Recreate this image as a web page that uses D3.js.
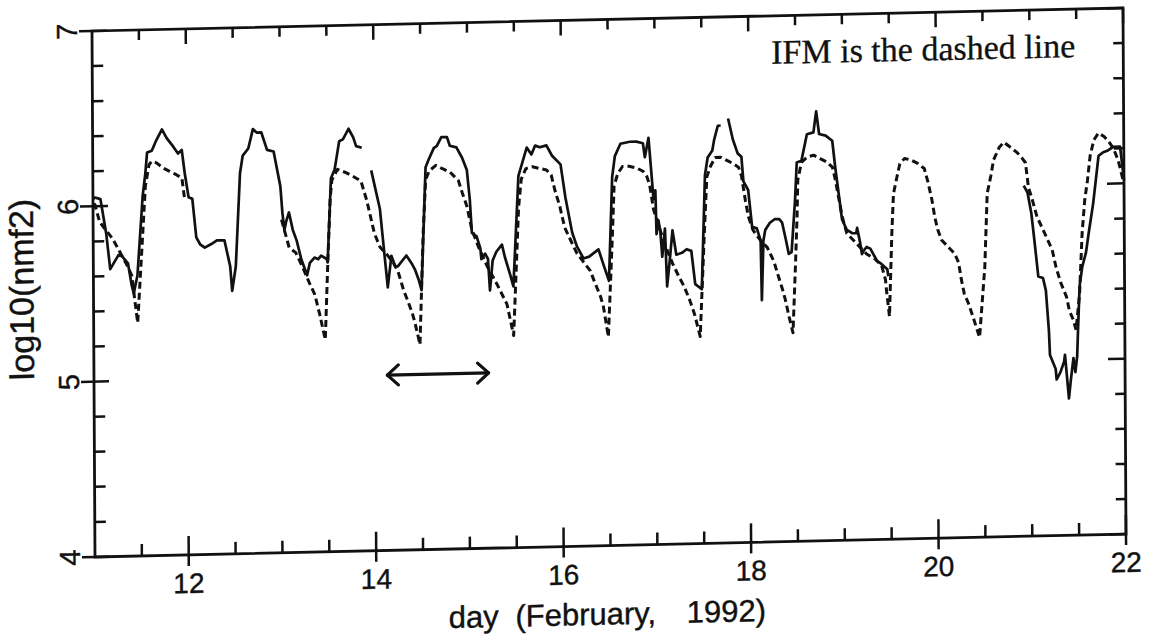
<!DOCTYPE html>
<html>
<head>
<meta charset="utf-8">
<script src="https://cdn.jsdelivr.net/npm/d3@7"></script>
<style>
  html, body { margin: 0; padding: 0; background: #fff; }
  svg { display: block; }
</style>
</head>
<body>
<svg id="chart" width="1155" height="641"></svg>
<script>
// Observed log10(NmF2): day of February 1992 and value; null marks a data gap.
const measuredDay = [
  11.00, 11.02, 11.08, 11.14, 11.18, 11.27, 11.31, 11.37, 11.41, 11.43, 11.47, 11.53, 11.56,
  11.58, 11.63, 11.68, 11.74, 11.79, 11.86, 11.91, 11.95, 11.98, 12.02, 12.06, 12.10, 12.14,
  12.19, 12.26, 12.32, 12.40, 12.46, 12.48, 12.52, 12.57, 12.60, 12.66, 12.71, 12.75, 12.80,
  12.86, 12.93, 13.00, 13.02, 13.04, 13.06, 13.09, 13.13, 13.17, 13.22, 13.28, 13.31, 13.36,
  13.40, 13.43, 13.49, 13.50, 13.54, 13.58, 13.63, 13.67, 13.73, 13.78, 13.81, 13.87, 13.92,
  13.97, 14.06, 14.09, 14.14, 14.18, 14.22, 14.25, 14.34, 14.40, 14.43, 14.47, 14.50, 14.55,
  14.58, 14.64, 14.67, 14.72, 14.78, 14.81, 14.88, 14.94, 14.99, 15.02, 15.04, 15.09, 15.13,
  15.14, 15.18, 15.21, 15.23, 15.26, 15.30, 15.36, 15.39, 15.45, 15.48, 15.54, 15.58, 15.63,
  15.68, 15.72, 15.77, 15.84, 15.90, 15.99, 16.04, 16.11, 16.16, 16.23, 16.29, 16.39, 16.45,
  16.50, 16.54, 16.57, 16.63, 16.73, 16.80, 16.87, 16.89, 16.93, 16.95, 16.98, 17.00, 17.01,
  17.03, 17.05, 17.07, 17.10, 17.12, 17.15, 17.18, 17.22, 17.28, 17.33, 17.38, 17.42, 17.49,
  17.53, 17.56, 17.61, 17.63, 17.67, 17.70, 17.74, 17.78, 17.83, 17.88, 17.92, 17.94, 17.99,
  18.03, 18.08, 18.12, 18.13, 18.15, 18.17, 18.22, 18.27, 18.32, 18.35, 18.39, 18.42, 18.45,
  18.49, 18.51, 18.56, 18.62, 18.69, 18.72, 18.75, 18.82, 18.89, 18.92, 18.99, 19.04, 19.10,
  19.14, 19.15, 19.18, 19.20, 19.22, 19.25, 19.29, 19.32, 19.36, 19.41, 19.47, 19.48, 20.20,
  20.93, 20.97, 21.01, 21.04, 21.08, 21.13, 21.16, 21.19, 21.20, 21.26, 21.27, 21.31, 21.35,
  21.36, 21.40, 21.42, 21.45, 21.47, 21.49, 21.50, 21.52, 21.55, 21.59, 21.62, 21.67, 21.73,
  21.78, 21.83, 21.89, 21.96, 22.00
];
const measuredLog = [
  6.04, 6.05, 6.04, 5.84, 5.64, 5.72, 5.71, 5.67, 5.54, 5.50, 5.60, 6.05, 6.18,
  6.30, 6.31, 6.37, 6.43, 6.38, 6.33, 6.29, 6.31, 6.18, 6.04, 6.03, 5.81, 5.77,
  5.75, 5.77, 5.79, 5.79, 5.64, 5.50, 5.64, 6.17, 6.27, 6.31, 6.42, 6.40, 6.40,
  6.30, 6.29, 6.09, 5.94, 5.84, 5.89, 5.94, 5.84, 5.78, 5.67, 5.58, 5.65, 5.68,
  5.67, 5.69, 5.67, 5.65, 6.13, 6.18, 6.34, 6.35, 6.41, 6.36, 6.31, 6.30, null,
  6.17, 5.95, 5.78, 5.50, 5.68, 5.62, 5.62, 5.68, 5.63, 5.60, 5.54, 5.48, 6.18,
  6.22, 6.29, 6.30, 6.35, 6.35, 6.30, 6.29, 6.23, 6.16, 5.99, 5.80, 5.78, 5.71,
  5.65, 5.68, 5.65, 5.47, 5.64, 5.69, 5.73, 5.66, 5.55, 5.49, 6.12, 6.19, 6.28,
  6.24, 6.29, 6.28, 6.29, 6.23, 6.18, 5.99, 5.79, 5.71, 5.64, 5.65, 5.69, 5.59,
  5.51, 6.10, 6.22, 6.29, 6.30, 6.30, 6.29, 6.21, 6.32, 6.18, 5.97, 6.02, 5.77,
  5.85, 5.79, 5.64, 5.80, 5.47, 5.62, 5.79, 5.65, 5.66, 5.68, 5.67, 5.48, 5.45,
  6.10, 6.20, 6.24, 6.30, 6.38, 6.38, null, 6.42, 6.30, 6.22, 6.20, 6.06, 6.01,
  5.80, 5.79, 5.72, 5.38, 5.72, 5.78, 5.82, 5.84, 5.84, 5.82, 5.72, 5.64, 5.65,
  5.95, 6.16, 6.17, 6.32, 6.33, 6.45, 6.32, 6.31, 6.28, 6.13, 5.83, 5.77, 5.75,
  5.75, 5.78, 5.70, 5.63, 5.65, 5.67, 5.66, 5.63, 5.59, 5.57, 5.54, 5.50, null,
  6.00, 5.96, 5.84, 5.69, 5.48, 5.47, 5.40, 5.17, 5.03, 4.95, 4.89, 4.93, 4.99,
  5.03, 4.78, 4.88, 5.01, 4.93, 5.02, 5.16, 5.42, 5.53, 5.61, 5.72, 5.89, 6.16,
  6.18, 6.19, 6.21, 6.21, 6.02
];

// IFM model log10(NmF2) for the same days; null marks where no model curve is drawn.
const ifmDay = [
  11.00, 11.02, 11.07, 11.14, 11.21, 11.28, 11.35, 11.41, 11.44, 11.47, 11.52, 11.56, 11.60,
  11.63, 11.68, 11.75, 11.82, 11.89, 11.95, 11.98, 12.50,
  13.01, 13.09, 13.16, 13.23, 13.30, 13.36, 13.41, 13.47, 13.50, 13.53, 13.55, 13.61, 13.70,
  13.77, 13.86, 13.92, 13.95, 14.00, 14.06, 14.13, 14.20, 14.25, 14.31, 14.36, 14.40, 14.43,
  14.48, 14.52, 14.55, 14.59, 14.66, 14.73, 14.81, 14.90, 14.94, 14.99, 15.04, 15.11, 15.20,
  15.30, 15.41, 15.48, 15.54, 15.57, 15.62, 15.69, 15.76, 15.84, 15.89, 15.93, 15.98, 16.03,
  16.09, 16.16, 16.23, 16.30, 16.35, 16.41, 16.44, 16.49, 16.54, 16.56, 16.60, 16.65, 16.72,
  16.80, 16.87, 16.91, 16.94, 16.98, 17.05, 17.12, 17.18, 17.25, 17.30, 17.36, 17.41, 17.47,
  17.52, 17.55, 17.59, 17.64, 17.70, 17.77, 17.84, 17.89, 17.92, 17.96, 17.99, 18.04, 18.12,
  18.19, 18.26, 18.31, 18.35, 18.38, 18.42, 18.46, 18.49, 18.51, 18.52, 18.56, 18.62, 18.69,
  18.76, 18.83, 18.89, 18.92, 18.96, 18.99, 19.04, 19.11, 19.18, 19.25, 19.34, 19.41, 19.45,
  19.46, 19.49, 19.52, 19.54, 19.58, 19.61, 19.66, 19.73, 19.80, 19.87, 19.91, 19.95, 19.98,
  20.01, 20.05, 20.12, 20.19, 20.23, 20.26, 20.29, 20.33, 20.38, 20.45, 20.51, 20.54, 20.58,
  20.61, 20.67, 20.72, 20.79, 20.86, 20.91, 20.95, 20.98, 21.02, 21.07, 21.13, 21.18, 21.23,
  21.27, 21.32, 21.38, 21.41, 21.45, 21.48, 21.52, 21.55, 21.58, 21.61, 21.64, 21.68, 21.73,
  21.79, 21.84, 21.89, 21.94, 21.99
];
const ifmLog = [
  6.01, 6.01, 5.91, 5.86, 5.81, 5.74, 5.67, 5.60, 5.46, 5.33, 5.76, 6.11, 6.23,
  6.25, 6.24, 6.21, 6.19, 6.17, 6.15, 6.02, null,
  5.90, 5.74, 5.71, 5.63, 5.54, 5.47, 5.36, 5.21, 5.63, 6.01, 6.12, 6.18, 6.16,
  6.14, 6.11, 6.00, 5.93, 5.81, 5.73, 5.69, 5.64, 5.59, 5.48, 5.41, 5.35, 5.29,
  5.17, 5.80, 6.11, 6.16, 6.19, 6.17, 6.15, 6.10, 6.03, 5.95, 5.82, 5.72, 5.61,
  5.51, 5.39, 5.21, 5.94, 6.10, 6.16, 6.17, 6.16, 6.15, 6.12, 6.03, 5.94, 5.82,
  5.75, 5.67, 5.62, 5.57, 5.50, 5.42, 5.36, 5.19, 5.78, 6.05, 6.12, 6.16, 6.16,
  6.15, 6.13, 6.10, 6.05, 5.91, 5.79, 5.68, 5.60, 5.52, 5.47, 5.39, 5.31, 5.18,
  5.77, 6.09, 6.15, 6.20, 6.20, 6.18, 6.16, 6.14, 6.09, 5.95, 5.86, 5.78, 5.72,
  5.68, 5.60, 5.51, 5.44, 5.38, 5.28, 5.19, 5.57, 5.85, 6.06, 6.16, 6.19, 6.20,
  6.18, 6.16, 6.13, 6.06, 5.94, 5.85, 5.75, 5.71, 5.67, 5.63, 5.60, 5.56, 5.48,
  5.42, 5.27, 5.74, 5.97, 6.07, 6.14, 6.17, 6.16, 6.14, 6.11, 6.03, 5.93, 5.83,
  5.76, 5.70, 5.66, 5.62, 5.57, 5.47, 5.39, 5.34, 5.26, 5.14, 5.54, 5.96, 6.06,
  6.15, 6.22, 6.25, 6.22, 6.19, 6.16, 6.13, 5.99, 5.92, 5.82, 5.75, 5.69, 5.63,
  5.53, 5.44, 5.36, 5.28, 5.23, 5.17, 5.38, 5.72, 5.91, 6.02, 6.16, 6.25, 6.29,
  6.27, 6.24, 6.20, 6.13, 6.02
];

// Axis ticks and labels
const xLabelTicks = [12, 14, 16, 18, 20, 22];
const xMinorTicks = [11.5, 12.5, 13, 13.5, 14.5, 15, 15.5, 16.5, 17, 17.5, 18.5, 19, 19.5, 20.5, 21, 21.5];
const yLabelTicks = [4, 5, 6, 7];
const yMinorTicks = [4.2, 4.4, 4.6, 4.8, 5.2, 5.4, 5.6, 5.8, 6.2, 6.4, 6.6, 6.8];

// Double-headed arrow marking a one-day span
const spanDays = [14.13, 15.21];
const spanLevel = 5.0;

const W = 1031, H = 526;
const svg = d3.select("#chart");
svg.append("rect").attr("width", 1155).attr("height", 641).attr("fill", "#fff");

// The whole figure sits on a slightly tilted sheet.
const g = svg.append("g").attr("transform", "matrix(1,-0.0223,0.0057,1,92,31)");

const x = d3.scaleLinear().domain([11, 22]).range([0, W]);
const y = d3.scaleLinear().domain([4, 7]).range([H, 0]);

const ink = "#111";
const sans = "'Liberation Sans', Arial, Helvetica, sans-serif";

// Frame
g.append("rect")
  .attr("x", 0).attr("y", 0).attr("width", W).attr("height", H)
  .attr("fill", "none").attr("stroke", ink).attr("stroke-width", 2.8);

const ticks = g.append("g").attr("stroke", ink).attr("stroke-width", 2.5);

// Bottom axis: labelled ticks cross the axis, half-day ticks point inward
ticks.selectAll(".xb-major").data(xLabelTicks).join("line")
  .attr("x1", d => x(d)).attr("x2", d => x(d))
  .attr("y1", H + 11).attr("y2", H - 19);
ticks.selectAll(".xb-minor").data(xMinorTicks).join("line")
  .attr("x1", d => x(d)).attr("x2", d => x(d))
  .attr("y1", H).attr("y2", H - 12);
// Top axis
ticks.selectAll(".xt-major").data(xLabelTicks).join("line")
  .attr("x1", d => x(d)).attr("x2", d => x(d))
  .attr("y1", 0).attr("y2", 15);
ticks.selectAll(".xt-minor").data(xMinorTicks).join("line")
  .attr("x1", d => x(d)).attr("x2", d => x(d))
  .attr("y1", 0).attr("y2", 10);
// Left axis
ticks.selectAll(".yl-major").data(yLabelTicks).join("line")
  .attr("x1", -13).attr("x2", 15)
  .attr("y1", d => y(d)).attr("y2", d => y(d));
ticks.selectAll(".yl-minor").data(yMinorTicks).join("line")
  .attr("x1", 0).attr("x2", 11)
  .attr("y1", d => y(d)).attr("y2", d => y(d));
// Right axis
ticks.selectAll(".yr-major").data(yLabelTicks).join("line")
  .attr("x1", W).attr("x2", W - 17)
  .attr("y1", d => y(d)).attr("y2", d => y(d));
ticks.selectAll(".yr-minor").data(yMinorTicks).join("line")
  .attr("x1", W).attr("x2", W - 10)
  .attr("y1", d => y(d)).attr("y2", d => y(d));

// Tick labels
g.append("g").selectAll("text").data(xLabelTicks).join("text")
  .attr("x", d => x(d)).attr("y", H + 38)
  .attr("text-anchor", "middle")
  .attr("font-family", sans).attr("font-size", 28).attr("fill", ink)
  .attr("stroke", ink).attr("stroke-width", 0.4)
  .text(d => d);
g.append("g").selectAll("text").data(yLabelTicks).join("text")
  .attr("transform", d => `translate(-15,${y(d)}) rotate(-90)`)
  .attr("text-anchor", "middle")
  .attr("font-family", sans).attr("font-size", 29).attr("fill", ink)
  .attr("stroke", ink).attr("stroke-width", 0.4)
  .text(d => d);

// Axis titles
const xTitle = g.append("text")
  .attr("x", 512).attr("y", H + 79)
  .attr("text-anchor", "middle")
  .attr("font-family", sans).attr("font-size", 31).attr("fill", ink)
  .attr("stroke", ink).attr("stroke-width", 0.4)
  .attr("word-spacing", 8);
xTitle.append("tspan").text("day (February,");
xTitle.append("tspan").attr("dx", 14).text(" 1992)");
g.append("text")
  .attr("transform", `translate(-60,${H / 2 - 6}) rotate(-90)`)
  .attr("text-anchor", "middle")
  .attr("font-family", sans).attr("font-size", 34).attr("fill", ink)
  .attr("stroke", ink).attr("stroke-width", 0.4)
  .text("log10(nmf2)");

// Series
const measured = measuredDay.map((d, i) => ({ day: d, v: measuredLog[i] }));
const ifm = ifmDay.map((d, i) => ({ day: d, v: ifmLog[i] }));
const line = d3.line()
  .defined(d => d.v != null)
  .x(d => x(d.day))
  .y(d => y(d.v));

g.append("path").datum(ifm)
  .attr("d", line)
  .attr("fill", "none").attr("stroke", ink)
  .attr("stroke-width", 3).attr("stroke-dasharray", "7,4")
  .attr("stroke-linejoin", "round");

g.append("path").datum(measured)
  .attr("d", line)
  .attr("fill", "none").attr("stroke", ink)
  .attr("stroke-width", 2.7).attr("stroke-linejoin", "round");

// One-day span arrow
const ax0 = x(spanDays[0]), ax1 = x(spanDays[1]), ay = y(spanLevel);
const arrow = g.append("g").attr("stroke", ink).attr("stroke-width", 3.2)
  .attr("fill", "none").attr("stroke-linecap", "round").attr("stroke-linejoin", "round");
arrow.append("line").attr("x1", ax0).attr("x2", ax1).attr("y1", ay).attr("y2", ay);
arrow.append("polyline").attr("points", `${ax0 + 11},${ay - 10} ${ax0},${ay} ${ax0 + 11},${ay + 10}`);
arrow.append("polyline").attr("points", `${ax1 - 11},${ay - 10} ${ax1},${ay} ${ax1 - 11},${ay + 10}`);

// Legend note
g.append("text")
  .attr("x", W - 48).attr("y", 48)
  .attr("text-anchor", "end")
  .attr("font-family", "'Liberation Serif', 'Times New Roman', serif")
  .attr("font-size", 34).attr("fill", ink)
  .attr("stroke", ink).attr("stroke-width", 0.3)
  .text("IFM is the dashed line");
</script>
</body>
</html>
